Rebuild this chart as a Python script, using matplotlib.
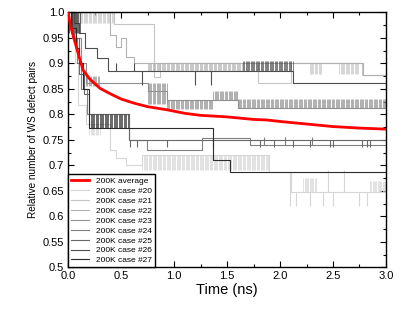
import numpy as np
import matplotlib
matplotlib.use('Agg')
from matplotlib import pyplot as plt
from matplotlib.ticker import MultipleLocator

plt.rcParams['font.family'] = ['Liberation Sans', 'DejaVu Sans']

# average curve
avg_t = [0, 0.02, 0.05, 0.1, 0.14, 0.2, 0.3, 0.4, 0.5, 0.62, 0.75, 0.93, 1.1, 1.25,
         1.5, 1.75, 1.87, 2.0, 2.25, 2.5, 2.75, 3.0]
avg_v = [1.0, 0.975, 0.952, 0.915, 0.887, 0.87, 0.851, 0.84, 0.83, 0.822, 0.815, 0.809,
         0.802, 0.798, 0.795, 0.79, 0.789, 0.786, 0.781, 0.776, 0.773, 0.771]

# step traces: times where level changes, levels
c20_t = [0, 0.03, 0.06, 0.09, 0.17, 0.39, 0.45, 0.55, 0.7, 1.9, 2.1, 3.0]
c20_v = [1.0, 0.96, 0.9, 0.818, 0.782, 0.73, 0.714, 0.70, 0.72, 0.6875, 0.648, 0.648]
c21_t = [0, 0.43, 0.81, 0.87, 1.79, 2.1, 2.77, 3.0]
c21_v = [1.0, 0.978, 0.874, 0.9, 0.862, 0.9, 0.878, 0.878]
c22_t = [0, 0.39, 0.45, 0.5, 0.545, 0.62, 2.78, 3.0]
c22_v = [1.0, 0.955, 0.933, 0.949, 0.913, 0.9, 0.878, 0.878]
c23_t = [0, 0.05, 0.12, 0.17, 0.75, 0.93, 1.37, 1.6, 3.0]
c23_v = [1.0, 0.95, 0.9, 0.862, 0.845, 0.828, 0.828, 0.813, 0.813]
c24_t = [0, 0.04, 0.08, 0.12, 0.18, 0.57, 0.74, 1.26, 1.72, 3.0]
c24_v = [1.0, 0.95, 0.9, 0.85, 0.8, 0.75, 0.73, 0.753, 0.74, 0.74]
c25_t = [0, 0.05, 0.1, 0.15, 0.2, 0.57, 3.0]
c25_v = [1.0, 0.95, 0.88, 0.84, 0.8, 0.75, 0.75]
c26_t = [0, 0.05, 0.1, 0.16, 0.27, 0.38, 2.12, 3.0]
c26_v = [1.0, 0.98, 0.96, 0.931, 0.91, 0.885, 0.862, 0.862]
c27_t = [0, 0.03, 0.07, 0.1, 0.14, 0.2, 1.37, 1.53, 3.0]
c27_v = [1.0, 0.97, 0.93, 0.9, 0.85, 0.773, 0.71, 0.6875, 0.6875]

# fluctuating stretches: (t start, t end, low, high)
c20_fl = [(0.2, 0.3, 0.76, 0.78), (0.7, 1.9, 0.69, 0.72), (2.22, 2.35, 0.648, 0.675),
          (2.85, 3.0, 0.648, 0.67)]
c21_fl = [(0.05, 0.43, 0.98, 1.0), (2.28, 2.39, 0.88, 0.9), (2.56, 2.75, 0.88, 0.9)]
c22_fl = [(0.75, 1.65, 0.885, 0.9)]
c23_fl = [(0.17, 0.3, 0.855, 0.875), (0.75, 0.93, 0.82, 0.862), (0.93, 1.37, 0.81, 0.828),
          (1.37, 1.6, 0.828, 0.845), (1.6, 3.0, 0.813, 0.83)]
c24_fl = []
c25_fl = []
c26_fl = [(1.65, 2.12, 0.885, 0.905)]
c27_fl = [(0.0, 0.12, 0.96, 1.0), (0.2, 0.57, 0.773, 0.8)]

# single spikes: (time, value reached)
c20_sp = [(2.09, 0.62), (2.15, 0.62), (2.28, 0.62), (2.41, 0.62), (2.5, 0.62),
          (2.75, 0.62), (2.82, 0.62), (2.45, 0.69), (2.6, 0.69)]
c25_sp = [(0.58, 0.735), (0.645, 0.735), (0.93, 0.735), (1.37, 0.735), (1.81, 0.735),
          (1.94, 0.735), (2.12, 0.735), (2.28, 0.735), (2.47, 0.735), (2.5, 0.735),
          (2.77, 0.735), (2.82, 0.735), (2.85, 0.735)]
c26_sp = [(0.7, 0.858), (1.2, 0.858), (1.35, 0.858), (0.45, 0.9), (0.62, 0.9)]
c24_sp = [(1.85, 0.755), (2.05, 0.755), (2.3, 0.755)]

labels = ['200K case #20', '200K case #21', '200K case #22', '200K case #23',
          '200K case #24', '200K case #25', '200K case #26', '200K case #27']
colors = ['#d6d6d6', '#c6c6c6', '#b2b2b2', '#909090', '#808080', '#686868',
          '#4e4e4e', '#2c2c2c']
cases = [(c20_t, c20_v, c20_fl, c20_sp), (c21_t, c21_v, c21_fl, []),
         (c22_t, c22_v, c22_fl, []), (c23_t, c23_v, c23_fl, []),
         (c24_t, c24_v, c24_fl, c24_sp), (c25_t, c25_v, c25_fl, c25_sp),
         (c26_t, c26_v, c26_fl, c26_sp), (c27_t, c27_v, c27_fl, [])]

yticks = [0.5, 0.55, 0.6, 0.65, 0.7, 0.75, 0.8, 0.85, 0.9, 0.95, 1.0]
ylabels = ['0.5', '0.55', '0.6', '0.65', '0.7', '0.75', '0.8', '0.85', '0.9', '0.95', '1.0']
xticks = [0.0, 0.5, 1.0, 1.5, 2.0, 2.5, 3.0]

fig = plt.figure(figsize=(4.11, 3.09), dpi=100)
ax = fig.add_axes([0.166, 0.135, 0.773, 0.825])

FLICK_DT = 0.012
for (t, v, fl, sp), col, lab in zip(cases, colors, labels):
    ax.step(t, v, where='post', color=col, lw=0.8, label=lab)
    for t0, t1, lo, hi in fl:
        xs = np.arange(t0, t1, FLICK_DT)
        ax.vlines(xs, lo, hi, color=col, lw=0.5)
    for ts, vs in sp:
        base = v[np.searchsorted(t, ts, side='right') - 1]
        ax.vlines(ts, min(base, vs), max(base, vs), color=col, lw=0.8)

ax.plot(avg_t, avg_v, color='#ff0000', lw=2.0, label='200K average', zorder=5)

ax.set_xlim(0, 3.0)
ax.set_ylim(0.5, 1.0)
ax.set_xticks(xticks)
ax.set_xticklabels(['%.1f' % x for x in xticks], fontsize=8)
ax.set_yticks(yticks)
ax.set_yticklabels(ylabels, fontsize=8)
ax.xaxis.set_minor_locator(MultipleLocator(0.25))
ax.yaxis.set_minor_locator(MultipleLocator(0.025))
ax.tick_params(which='both', direction='in', top=True, right=True, width=0.8)
ax.tick_params(which='major', length=4, pad=3)
ax.tick_params(which='minor', length=2.5)
for s in ax.spines.values():
    s.set_linewidth(1.0)
ax.set_xlabel('Time (ns)', fontsize=10.5, labelpad=1)
ax.set_ylabel('Relative number of WS defect pairs', fontsize=7.2, labelpad=3)

h, l = ax.get_legend_handles_labels()
order = [len(h) - 1] + list(range(len(h) - 1))
leg = ax.legend([h[i] for i in order], [l[i] for i in order], loc='lower left',
                fontsize=6.0, frameon=True, fancybox=False, framealpha=1,
                edgecolor='black', borderaxespad=0, handlelength=2.2,
                labelspacing=0.25, borderpad=0.35, handletextpad=0.8)
leg.get_frame().set_linewidth(1.0)
leg.set_zorder(10)

plt.savefig('out.png', dpi=100)
